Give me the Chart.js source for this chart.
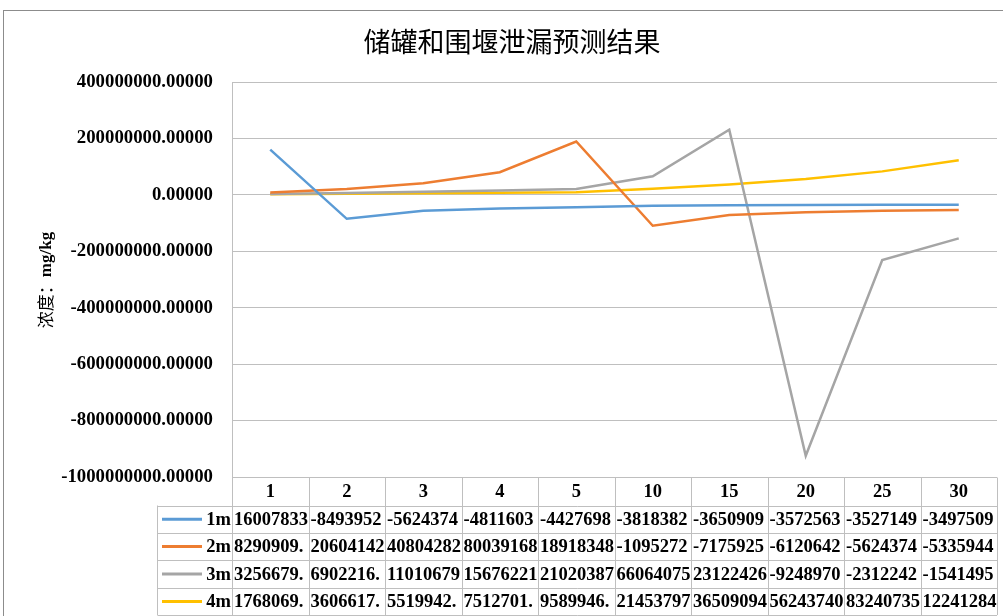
<!DOCTYPE html>
<html>
<head>
<meta charset="utf-8">
<title>储罐和围堰泄漏预测结果</title>
<script src="https://cdn.jsdelivr.net/npm/chart.js@4.4.1/dist/chart.umd.min.js"></script>
<style>
    html, body { margin: 0; padding: 0; background: #ffffff; }
    #contenedor { position: relative; width: 1003px; height: 616px; }
</style>
</head>
<body>
<div id="contenedor"><canvas id="graficoFuga"></canvas></div>
<script>
// Categorías (tiempo) y series de concentración
const categorias = ['1', '2', '3', '4', '5', '10', '15', '20', '25', '30'];
const serie1m = [160078330, -84939520, -56243740, -48116030, -44276980, -38183820, -36509090, -35725630, -35271490, -34975090];
const serie2m = [8290909, 20604142, 40804282, 80039168, 189183480, -109527200, -71759250, -61206420, -56243740, -53359440];
const serie3m = [3256679, 6902216, 11010679, 15676221, 21020387, 66064075, 231224260, -924897000, -231224200, -154149500];
const serie4m = [1768069, 3606617, 5519942, 7512701, 9589946, 21453797, 36509094, 56243740, 83240735, 122412840];
const nombresSeries = ['1m', '2m', '3m', '4m'];
const coloresSeries = ['#5B9BD5', '#ED7D31', '#A5A5A5', '#FFC000'];

// Eje Y
const ejeYMin = -1000000000;
const ejeYMax = 400000000;
const ejeYPaso = 200000000;

const titulo = '储罐和围堰泄漏预测结果';
const tituloEjeY = '浓度：';
const unidadEjeY = 'mg/kg';

const COLOR_LINEA = '#bfbfbf';
const FUENTE_NUM = '"Liberation Serif", "Times New Roman", serif';
const FUENTE_CJK = '"Noto Sans CJK SC", sans-serif';

document.addEventListener('DOMContentLoaded', function() {
    initGrafico();
});

/**
 * Recorta el texto al ancho de la celda (como la tabla de datos de Excel)
 */
function recortarTexto(ctx, texto, anchoMax) {
    let salida = '';
    for (const ch of texto) {
        if (ctx.measureText(salida + ch).width > anchoMax) break;
        salida += ch;
    }
    return salida;
}

function linea(ctx, x1, y1, x2, y2) {
    ctx.beginPath();
    ctx.moveTo(x1, y1);
    ctx.lineTo(x2, y2);
    ctx.stroke();
}

// Marco, título, título del eje Y y tabla de datos bajo el gráfico
const pluginDecoracion = {
    id: 'decoracion',
    afterDraw(chart) {
        const ctx = chart.ctx;
        const area = chart.chartArea;
        const series = [serie1m, serie2m, serie3m, serie4m];
        ctx.save();

        // Marco del área del gráfico
        ctx.strokeStyle = '#8c8c8c';
        ctx.lineWidth = 1;
        ctx.strokeRect(3.5, 10.5, 1100, 700);

        // Título
        ctx.fillStyle = '#000000';
        ctx.font = '400 27px ' + FUENTE_CJK;
        ctx.textAlign = 'center';
        ctx.textBaseline = 'middle';
        ctx.fillText(titulo, 512, 42);

        // Título del eje Y (girado)
        ctx.save();
        ctx.translate(46, 280);
        ctx.rotate(-Math.PI / 2);
        ctx.font = '400 17px ' + FUENTE_CJK;
        const w1 = ctx.measureText(tituloEjeY).width;
        ctx.font = 'bold 17px ' + FUENTE_NUM;
        const w2 = ctx.measureText(unidadEjeY).width;
        const inicio = -(w1 + w2) / 2;
        ctx.textAlign = 'left';
        ctx.font = '400 17px ' + FUENTE_CJK;
        ctx.fillText(tituloEjeY, inicio, 0);
        ctx.font = 'bold 17px ' + FUENTE_NUM;
        ctx.fillText(unidadEjeY, inicio + w1, 1);
        ctx.restore();

        // Tabla de datos
        const colW = area.width / categorias.length;
        const arriba = Math.round(area.bottom) + 0.5;
        const altoCab = 28;
        const altoFila = 27.4;
        const izqClave = 157.5;
        const abajo = arriba + altoCab + altoFila * series.length;

        ctx.strokeStyle = COLOR_LINEA;
        ctx.lineWidth = 1;
        linea(ctx, area.left, arriba, area.right, arriba);
        for (let i = 0; i <= series.length; i++) {
            const y = Math.round(arriba + altoCab + i * altoFila) + 0.5;
            linea(ctx, izqClave, y, area.right, y);
        }
        for (let c = 0; c <= categorias.length; c++) {
            const x = Math.round(area.left + c * colW) + 0.5;
            linea(ctx, x, arriba, x, abajo);
        }
        linea(ctx, izqClave, arriba + altoCab, izqClave, abajo);

        ctx.fillStyle = '#000000';
        ctx.textBaseline = 'middle';
        ctx.textAlign = 'center';
        ctx.font = 'bold 18.5px ' + FUENTE_NUM;

        // Cabecera con las categorías
        categorias.forEach((cat, c) => {
            ctx.fillText(cat, chart.scales.x.getPixelForValue(c), arriba + altoCab / 2 + 1);
        });

        // Filas: clave de la serie y valores
        series.forEach((datos, f) => {
            const yc = arriba + altoCab + (f + 0.5) * altoFila + 1;
            ctx.strokeStyle = coloresSeries[f];
            ctx.lineWidth = 3;
            linea(ctx, 162, yc - 1, 202, yc - 1);
            ctx.textAlign = 'right';
            ctx.fillText(nombresSeries[f], 231, yc);
            datos.forEach((v, c) => {
                const completo = v.toFixed(5);
                const texto = recortarTexto(ctx, completo, colW - 1.5);
                if (texto.length < completo.length) {
                    // si no cabe se muestra desde la izquierda
                    ctx.textAlign = 'left';
                    ctx.fillText(texto, area.left + c * colW + 2, yc);
                } else {
                    ctx.textAlign = 'center';
                    ctx.fillText(texto, chart.scales.x.getPixelForValue(c), yc);
                }
            });
        });

        ctx.restore();
    }
};

/**
 * Inicializa el gráfico de líneas
 */
function initGrafico() {
    const canvas = document.getElementById('graficoFuga');
    const ctx = canvas.getContext('2d');
    const series = [serie1m, serie2m, serie3m, serie4m];

    new Chart(ctx, {
        type: 'line',
        data: {
            labels: categorias,
            datasets: series.map((datos, i) => ({
                label: nombresSeries[i],
                data: datos,
                borderColor: coloresSeries[i],
                backgroundColor: coloresSeries[i],
                borderWidth: 2.5,
                pointRadius: 0,
                tension: 0,
                fill: false
            }))
        },
        options: {
            responsive: true,
            maintainAspectRatio: false,
            animation: false,
            layout: {
                padding: { top: 82, left: 0, right: 6, bottom: 0 }
            },
            plugins: {
                legend: { display: false },
                title: { display: false },
                tooltip: { enabled: false }
            },
            scales: {
                x: {
                    type: 'category',
                    offset: true,
                    grid: { display: false },
                    border: { display: false },
                    ticks: { display: false },
                    afterFit(scale) { scale.height = 139; }
                },
                y: {
                    min: ejeYMin,
                    max: ejeYMax,
                    border: { display: true, color: COLOR_LINEA, width: 1 },
                    grid: { color: COLOR_LINEA, lineWidth: 1, drawTicks: false },
                    ticks: {
                        stepSize: ejeYPaso,
                        padding: 19,
                        color: '#000000',
                        font: { family: FUENTE_NUM, size: 18.8, weight: 'bold' },
                        callback: v => Number(v).toFixed(5)
                    },
                    afterFit(scale) { scale.width = 232; }
                }
            }
        },
        plugins: [pluginDecoracion]
    });
}
</script>
</body>
</html>
